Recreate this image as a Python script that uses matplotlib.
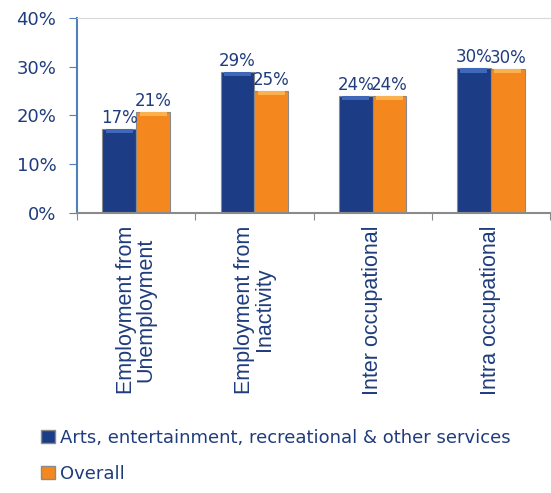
import matplotlib
matplotlib.use("Agg")
import matplotlib.pyplot as plt
from matplotlib.patches import Patch

# data
categories = ["Employment from\nUnemployment", "Employment from\nInactivity",
              "Inter occupational", "Intra occupational"]
arts = [17.3, 29.0, 24.0, 29.7]
overall = [20.8, 25.0, 24.0, 29.6]
arts_labels = ["17%", "29%", "24%", "30%"]
overall_labels = ["21%", "25%", "24%", "30%"]
yticks = [0, 10, 20, 30, 40]
series_names = ["Arts, entertainment, recreational & other services", "Overall"]

navy = "#1c3c86"
navy_hi = "#3f68b8"
orange = "#f5871f"
orange_hi = "#fbb24e"
text_col = "#1f3c7c"

plt.rcParams["font.family"] = ["DejaVu Sans"]

fig = plt.figure(figsize=(5.51, 4.93), dpi=100)
fig.patch.set_facecolor("white")
ax = fig.add_axes([0.14, 0.568, 0.858, 0.3955])

w = 0.286
band = 0.9  # light bevel strip at the top of each bar
centers = [i + 0.5 for i in range(len(categories))]
x1 = [c - w / 2 for c in centers]
x2 = [c + w / 2 for c in centers]
b1 = ax.bar(x1, arts, width=w, color=navy, edgecolor="#8a8a8a", linewidth=0.8)
b2 = ax.bar(x2, overall, width=w, color=orange, edgecolor="#8a8a8a", linewidth=0.8)
ax.bar(x1, [band] * 4, bottom=[v - band for v in arts], width=w * 0.8,
       color=navy_hi, linewidth=0)
ax.bar(x2, [band] * 4, bottom=[v - band for v in overall], width=w * 0.8,
       color=orange_hi, linewidth=0)

# value labels
for rect, lab in zip(b1, arts_labels):
    ax.text(rect.get_x() + rect.get_width() / 2, rect.get_height() + 0.4, lab,
            ha="center", va="bottom", fontsize=12, color=text_col)
for rect, lab in zip(b2, overall_labels):
    ax.text(rect.get_x() + rect.get_width() / 2, rect.get_height() + 0.4, lab,
            ha="center", va="bottom", fontsize=12, color=text_col)

ax.set_xlim(0, 4)
ax.set_ylim(0, 40)
ax.set_yticks(yticks)
ax.set_yticklabels([f"{t}%" for t in yticks], fontsize=13, color=text_col)

ax.set_xticks(range(5))
ax.set_xticklabels([])
ax.set_xticks(centers, minor=True)
ax.set_xticklabels(categories, minor=True, rotation=90, fontsize=15.5,
                   family="Liberation Sans", color=text_col, va="top",
                   ha="center", multialignment="center", linespacing=0.95)
ax.tick_params(axis="x", which="minor", length=0, pad=9)
ax.tick_params(axis="x", which="major", length=5, color="#8a8a8a", direction="out")
ax.tick_params(axis="y", length=6, color="#4f81bd", direction="out", pad=9)

ax.spines["left"].set_color("#4f81bd")
ax.spines["left"].set_linewidth(1.5)
ax.spines["bottom"].set_color("#8a8a8a")
ax.spines["bottom"].set_linewidth(1.5)
ax.spines["top"].set_color("#d9d9d9")
ax.spines["right"].set_visible(False)

handles = [Patch(facecolor=navy, edgecolor="#8a8a8a"),
           Patch(facecolor=orange, edgecolor="#8a8a8a")]
leg = fig.legend(handles, series_names, loc="lower left",
                 bbox_to_anchor=(0.045, -0.012), frameon=False, fontsize=13,
                 handlelength=0.75, handleheight=0.75, handletextpad=0.3,
                 labelspacing=1.0)
for t in leg.get_texts():
    t.set_color(text_col)

fig.savefig("out.png", dpi=100, facecolor="white")
